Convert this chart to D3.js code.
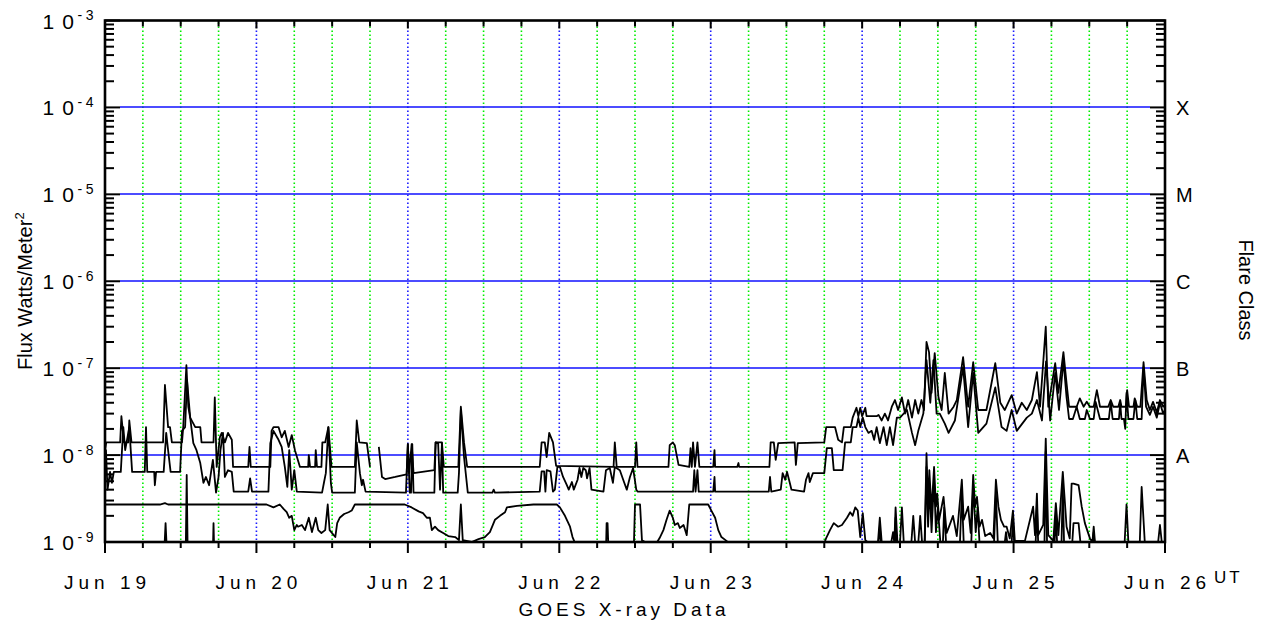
<!DOCTYPE html>
<html><head><meta charset="utf-8">
<script src="https://cdn.jsdelivr.net/npm/d3@7"></script>
<style>
body{margin:0;background:#fff;}
svg{display:block;font-family:"Liberation Sans",Arial,Helvetica,sans-serif;}
</style></head><body>
<svg id="chart" width="1270" height="624"></svg>
<script>
// ---- DATA (hours since Jun 19 00:00 UT, flux in W/m^2) ----
const dayHours = [0,24,48,72,96,120,144,168];
const dayLabels = ["Jun 19","Jun 20","Jun 21","Jun 22","Jun 23","Jun 24","Jun 25","Jun 26"];
const yExponents = [-9,-8,-7,-6,-5,-4,-3];
const classLabels = ["A","B","C","M","X"];
const classLevels = [1e-8,1e-7,1e-6,1e-5,1e-4];

const longA = [
[0,1.14e-8],[0.2,1.4e-8],[2.4,1.4e-8],[2.6,2.8e-8],[3.0,1.4e-8],[3.7,1.4e-8],[3.85,2.5e-8],[4.2,1.4e-8],[9.2,1.4e-8],[9.5,6.4e-8],[10.0,2.1e-8],[10.3,2.1e-8],[10.6,1.4e-8],[12.2,1.4e-8],[12.4,2.1e-8],[12.9,1.08e-7],[13.2,3.6e-8],[13.5,2.7e-8],[14.3,2.1e-8],[15.1,2.1e-8],[15.3,1.4e-8],[17.2,1.4e-8],[17.4,4.6e-8],[17.7,7.3e-9],[18.2,1.6e-8],[18.5,1.8e-8],[19.0,1.4e-8],[19.5,1.8e-8],[20.1,1.5e-8],[20.3,7.3e-9],[22.7,7.3e-9],[22.9,1.24e-8],[23.1,7.3e-9],[26.2,7.3e-9],[26.4,1.9e-8],[26.7,2.1e-8],[27.5,2.1e-8],[28.0,1.6e-8],[28.5,1.9e-8],[29.1,1.24e-8],[29.6,1.7e-8],[30.1,1.14e-8],[30.9,7.3e-9],[32.2,7.3e-9],[32.3,1.0e-8],[32.5,7.3e-9],[33.3,7.3e-9],[33.4,1.14e-8],[33.6,7.3e-9],[34.3,7.3e-9],[34.45,1.4e-8],[34.9,1.4e-8],[35.4,2.1e-8],[35.9,7.3e-9],[39.6,7.3e-9],[39.9,2.5e-8],[40.3,1.4e-8],[41.5,1.37e-8],[42.0,7.3e-9],[42.7,null],[43.4,1.24e-8],[43.9,5.6e-9],[44.4,5.3e-9],[46.0,5.6e-9],[47.8,6.0e-9],[48.0,1.34e-8],[48.2,6.2e-9],[48.6,1.34e-8],[48.9,6.2e-9],[52.2,6.7e-9],[52.4,1.4e-8],[53.4,1.4e-8],[53.7,7.3e-9],[56.0,7.3e-9],[56.4,3.6e-8],[56.9,1.4e-8],[57.4,7.3e-9],[68.9,7.3e-9],[69.2,1.4e-8],[69.7,1.4e-8],[70.0,9.5e-9],[70.4,1.8e-8],[71.0,1.4e-8],[71.5,7.5e-9],[80.6,7.3e-9],[80.8,1.4e-8],[81.1,7.3e-9],[84.0,7.3e-9],[84.2,1.4e-8],[84.4,7.3e-9],[89.3,7.3e-9],[89.5,1.3e-8],[90.0,1.4e-8],[90.3,1.3e-8],[90.9,7.7e-9],[92.6,7.3e-9],[92.8,1.2e-8],[93.0,7.3e-9],[93.2,1.4e-8],[93.5,7.3e-9],[93.9,1.4e-8],[94.2,7.3e-9],[96.4,7.3e-9],[96.6,1.14e-8],[96.7,7.3e-9],[100.2,7.3e-9],[100.4,8.1e-9],[100.5,7.3e-9],[105.3,7.3e-9],[105.5,1.4e-8],[106.0,1.4e-8],[106.3,8.8e-9],[106.7,1.37e-8],[109.3,1.4e-8],[109.5,7.7e-9],[109.8,1.37e-8],[114.0,1.4e-8],[114.3,2.1e-8],[115.7,2.1e-8],[116.2,1.5e-8],[116.8,1.4e-8],[117.1,2.1e-8],[118.2,2.1e-8],[118.5,2.7e-8],[119.1,3.5e-8],[119.4,2.8e-8],[119.7,3.5e-8],[120.0,2.8e-8],[120.5,3.5e-8],[120.7,2.8e-8],[122.3,2.8e-8],[122.6,2.9e-8],[123.1,2.5e-8],[123.6,3.0e-8],[124.1,2.5e-8],[124.7,3.6e-8],[125.2,4.3e-8],[125.7,3.3e-8],[126.3,4.6e-8],[126.8,3.0e-8],[127.3,4.3e-8],[127.9,2.7e-8],[128.4,4.3e-8],[128.9,3.0e-8],[129.4,4.3e-8],[129.8,3.3e-8],[130.2,2.0e-7],[130.6,1.53e-7],[131.0,5.2e-8],[131.5,1.49e-7],[132.1,4.6e-8],[132.6,3.3e-8],[133.1,8.8e-8],[133.7,3.0e-8],[134.5,3.6e-8],[135.0,4.3e-8],[136.0,1.34e-7],[136.8,3.6e-8],[137.6,1.17e-7],[138.4,3.3e-8],[139.7,3.3e-8],[141.1,1.14e-7],[141.9,4.0e-8],[142.6,3.3e-8],[143.7,4.9e-8],[144.5,3.0e-8],[145.3,4.0e-8],[146.1,3.3e-8],[146.9,4.3e-8],[147.7,9.0e-8],[148.2,3.6e-8],[149.1,3.0e-7],[149.5,3.6e-8],[150.6,1.14e-7],[151.1,5.2e-8],[151.9,1.53e-7],[152.4,6.7e-8],[152.8,3.6e-8],[154.0,3.6e-8],[154.5,4.5e-8],[155.1,3.6e-8],[155.6,4.1e-8],[156.1,3.6e-8],[156.7,3.6e-8],[157.2,5.6e-8],[157.7,3.6e-8],[159.0,3.6e-8],[159.4,4.3e-8],[159.8,3.6e-8],[160.6,3.6e-8],[160.9,4.3e-8],[161.1,3.6e-8],[161.8,3.6e-8],[162.0,5.6e-8],[162.3,3.6e-8],[163.0,3.6e-8],[163.2,4.5e-8],[163.6,3.6e-8],[164.1,3.6e-8],[164.6,1.17e-7],[165.1,4.3e-8],[165.6,3.3e-8],[166.1,4.1e-8],[166.7,3.1e-8],[167.2,4.3e-8],[167.7,3.6e-8],[168,3.8e-8]
];

const longB = [
[0,6.7e-9],[0.15,1.14e-8],[0.4,4.0e-9],[0.8,6.4e-9],[1.1,4.8e-9],[1.4,6.4e-9],[2.5,6.4e-9],[2.9,2.1e-8],[3.2,1.14e-8],[3.85,2.1e-8],[4.3,6.4e-9],[6.3,6.4e-9],[6.5,2.1e-8],[6.7,6.4e-9],[7.8,6.4e-9],[7.9,4.5e-9],[8.1,6.4e-9],[9.3,6.4e-9],[9.7,1.8e-8],[10.0,1.14e-8],[10.4,6.4e-9],[11.9,6.4e-9],[12.2,1.9e-8],[12.7,2.1e-8],[13.0,7.3e-8],[13.5,2.7e-8],[14.0,1.37e-8],[14.5,1.14e-8],[15.1,8.1e-9],[15.6,4.8e-9],[16.0,5.6e-9],[16.5,4.5e-9],[17.1,8.8e-9],[17.6,3.7e-9],[18.0,5.6e-9],[18.3,1.14e-8],[18.7,1.8e-8],[19.0,5.6e-9],[19.5,6.7e-9],[20.1,6.4e-9],[20.4,3.8e-9],[22.7,3.8e-9],[23.0,5.4e-9],[23.3,3.8e-9],[25.9,3.8e-9],[26.2,1.37e-8],[26.7,1.9e-8],[27.5,1.5e-8],[28.0,1.24e-8],[28.5,7.3e-9],[28.9,4.3e-9],[29.2,1.14e-8],[29.6,4.0e-9],[30.0,6.7e-9],[30.4,3.8e-9],[34.4,3.7e-9],[34.7,4.8e-9],[35.0,6.2e-9],[35.4,2.1e-8],[35.8,4.8e-9],[36.0,3.7e-9],[39.6,3.7e-9],[39.9,1.4e-8],[40.4,6.2e-9],[40.7,4.5e-9],[40.9,5.2e-9],[41.3,3.8e-9],[47.7,3.7e-9],[48.0,1.34e-8],[48.3,3.7e-9],[48.5,3.7e-9],[48.7,1.34e-8],[48.9,3.7e-9],[52.2,3.7e-9],[52.4,1.4e-8],[52.8,1.37e-8],[53.1,4.0e-9],[53.4,1.37e-8],[53.6,3.7e-9],[55.9,3.7e-9],[56.1,6.2e-9],[56.4,3.3e-8],[56.9,9.5e-9],[57.5,3.7e-9],[61.4,3.7e-9],[61.6,4.0e-9],[61.8,3.7e-9],[68.9,3.8e-9],[69.2,6.5e-9],[69.6,6.5e-9],[69.8,3.8e-9],[70.0,6.7e-9],[70.6,6.5e-9],[71.0,3.8e-9],[71.3,4.0e-9],[71.7,7.3e-9],[72.1,7.3e-9],[72.6,5.6e-9],[73.2,4.5e-9],[73.5,4.0e-9],[74.0,4.9e-9],[74.3,4.0e-9],[74.9,5.2e-9],[75.2,7.1e-9],[75.5,5.6e-9],[75.8,7.1e-9],[76.2,6.7e-9],[76.4,5.4e-9],[76.8,7.1e-9],[77.1,4.0e-9],[79.0,3.8e-9],[79.4,6.7e-9],[80.0,7.1e-9],[80.5,4.8e-9],[80.8,7.3e-9],[81.6,6.7e-9],[82.3,4.8e-9],[82.7,4.0e-9],[83.2,5.6e-9],[83.7,7.1e-9],[84.2,4.0e-9],[84.4,3.8e-9],[93.2,3.8e-9],[93.4,6.7e-9],[93.6,3.8e-9],[93.9,6.7e-9],[94.1,3.8e-9],[96.4,3.8e-9],[96.6,5.6e-9],[96.7,3.8e-9],[105.2,3.8e-9],[105.4,5.6e-9],[105.6,3.8e-9],[107.1,4.0e-9],[107.4,6.2e-9],[107.8,5.2e-9],[108.1,6.4e-9],[108.5,4.9e-9],[108.8,4.0e-9],[110.8,3.8e-9],[111.1,5.2e-9],[111.5,6.2e-9],[111.7,4.9e-9],[112.2,6.2e-9],[114.0,6.2e-9],[114.4,1.2e-8],[115.2,1.2e-8],[115.5,6.7e-9],[116.9,6.7e-9],[117.3,1.4e-8],[118.2,1.4e-8],[118.5,2.1e-8],[119.1,2.1e-8],[119.4,2.7e-8],[119.7,2.1e-8],[120.1,2.7e-8],[120.5,2.1e-8],[121.0,1.8e-8],[121.5,1.9e-8],[121.9,1.5e-8],[122.3,2.1e-8],[122.8,1.37e-8],[123.4,2.1e-8],[123.9,1.3e-8],[124.4,2.1e-8],[124.9,1.3e-8],[125.5,2.7e-8],[126.0,2.7e-8],[127.1,3.3e-8],[127.9,1.8e-8],[128.4,1.3e-8],[128.9,1.9e-8],[129.7,3.0e-8],[130.2,1.24e-7],[130.8,4.0e-8],[131.3,1.24e-7],[131.8,3.0e-8],[132.3,3.0e-8],[133.1,2.3e-8],[133.7,1.8e-8],[134.7,2.5e-8],[136.0,1.03e-7],[136.8,2.1e-8],[137.6,8.8e-8],[138.4,1.8e-8],[139.7,2.3e-8],[141.1,6.0e-8],[142.1,2.1e-8],[142.9,1.9e-8],[143.7,3.3e-8],[144.5,1.9e-8],[146.1,2.7e-8],[146.9,3.0e-8],[147.7,4.3e-8],[148.5,2.5e-8],[149.15,1.2e-7],[149.8,2.5e-8],[150.6,8.8e-8],[151.2,3.3e-8],[151.9,1.24e-7],[152.4,4.6e-8],[152.8,2.6e-8],[153.4,2.6e-8],[154.0,3.6e-8],[154.5,2.6e-8],[155.3,2.6e-8],[155.6,3.3e-8],[156.1,2.6e-8],[156.7,2.6e-8],[157.0,4.1e-8],[157.7,2.6e-8],[159.1,2.6e-8],[159.4,4.1e-8],[159.7,2.6e-8],[160.7,2.6e-8],[160.9,4.0e-8],[161.1,2.6e-8],[161.5,2.6e-8],[161.7,2.0e-8],[161.9,5.2e-8],[162.2,2.6e-8],[163.0,2.6e-8],[163.3,4.3e-8],[163.6,2.6e-8],[164.3,2.6e-8],[164.6,1.03e-7],[165.0,3.6e-8],[165.6,2.9e-8],[166.1,3.6e-8],[166.7,2.7e-8],[167.2,4.0e-8],[167.7,3.0e-8],[168,3.3e-8]
];

const shortA = [
[0,2.7e-9],[8.7,2.7e-9],[9.5,2.8e-9],[10.0,2.7e-9],[24.0,2.7e-9],[25.6,2.7e-9],[26.7,2.5e-9],[27.7,2.7e-9],[28.3,2.4e-9],[28.8,2.2e-9],[29.2,1.9e-9],[29.6,2.0e-9],[30.0,1.37e-9],[30.4,1.57e-9],[30.6,1.5e-9],[31.2,1.57e-9],[31.7,1.37e-9],[32.3,1.9e-9],[32.8,1.3e-9],[33.4,1.9e-9],[33.8,1.37e-9],[34.3,1.27e-9],[34.9,1.37e-9],[35.3,2.7e-9],[35.6,1.37e-9],[36.5,1.14e-9],[36.8,1.65e-9],[37.2,1.9e-9],[37.9,2.1e-9],[38.6,2.2e-9],[39.1,2.3e-9],[39.6,2.7e-9],[43.3,2.7e-9],[47.5,2.7e-9],[48.6,2.5e-9],[49.7,2.25e-9],[50.4,2.15e-9],[51.0,1.9e-9],[51.5,1.9e-9],[51.8,1.37e-9],[52.3,1.5e-9],[52.8,1.37e-9],[53.6,1.27e-9],[54.4,1.17e-9],[55.5,1.14e-9],[56.1,1.05e-9],[56.4,2.7e-9],[56.7,1.05e-9],[58.1,1.0e-9],[59.2,1.08e-9],[60.2,1.14e-9],[61.0,1.3e-9],[61.8,1.8e-9],[62.6,2.0e-9],[63.4,2.2e-9],[63.7,2.5e-9],[65.3,2.6e-9],[67.9,2.7e-9],[71.6,2.7e-9],[72.1,2.5e-9],[72.9,2.0e-9],[73.7,1.5e-9],[74.1,1.14e-9],[74.5,9.7e-10],[74.8,8e-10],[79.4,8e-10],[79.5,1.65e-9],[79.65,1.65e-9],[79.8,8e-10],[83.8,8e-10],[84.0,2.7e-9],[84.8,2.7e-9],[85.1,1.05e-9],[85.6,1.0e-9],[86.0,9.7e-10],[87.4,9.7e-10],[87.9,1.11e-9],[88.5,1.37e-9],[89.0,1.8e-9],[89.5,2.3e-9],[90.0,1.9e-9],[90.3,1.57e-9],[90.8,1.65e-9],[91.1,1.45e-9],[91.7,1.57e-9],[92.2,1.2e-9],[92.6,2.7e-9],[93.2,2.7e-9],[95.6,2.7e-9],[96.1,2.3e-9],[96.7,1.9e-9],[97.2,1.37e-9],[97.7,1.14e-9],[98.5,1.03e-9],[98.9,9.7e-10],[99.3,8e-10],[113.6,8e-10],[114.3,1.11e-9],[114.9,1.37e-9],[115.5,1.65e-9],[116.2,1.5e-9],[116.8,1.57e-9],[117.6,1.9e-9],[118.1,2.2e-9],[118.5,2.0e-9],[118.9,2.5e-9],[119.3,2.3e-9],[119.7,1.14e-9],[120.1,2.15e-9],[120.5,1.05e-9],[121.0,9.8e-10],
[122.5,9.8e-10],[122.8,1.9e-9],[123.1,1.0e-9],[124.6,9.8e-10],[124.9,1.3e-9],[125.1,9.8e-10],[125.3,2.5e-9],[125.6,9.8e-10],[126.0,9.8e-10],[126.3,2.5e-9],[126.6,9.8e-10],[127.8,9.8e-10],[128.1,2.0e-9],[128.4,9.8e-10],[128.9,9.8e-10],[129.2,2.0e-9],[129.5,9.8e-10],[129.9,1.0e-9],[130.2,1.05e-8],[130.45,2.55e-9],[130.65,6.7e-9],[131.0,2.3e-9],[131.4,7.3e-9],[131.7,2.55e-9],[131.9,3.6e-9],[132.2,1.8e-9],[132.9,3.3e-9],[133.4,1.27e-9],[134.4,2.0e-9],[135.0,1.17e-9],[135.8,5.2e-9],[136.1,1.8e-9],[136.8,2.55e-9],[137.2,1.27e-9],[137.6,5.9e-9],[137.9,2.55e-9],[138.2,3.3e-9],[138.6,1.5e-9],[139.0,1.8e-9],[139.5,1.17e-9],[140.3,1.27e-9],[140.8,1.1e-9],[141.2,5.2e-9],[141.6,2.55e-9],[142.0,1.8e-9],[142.5,1.5e-9],[142.9,1.5e-9],[143.4,1.1e-9],[143.9,2.3e-9],[144.2,1.03e-9],[145.8,1.03e-9],[147.1,2.55e-9],[147.4,1.2e-9],[147.7,3.6e-9],[147.9,1.2e-9],[148.7,1.57e-9],[149.1,1.55e-8],[149.5,1.2e-9],[150.3,1.03e-9],[150.7,2.8e-9],[151.1,1.2e-9],[151.8,6.4e-9],[152.4,1.5e-9],[152.9,1.1e-9],[153.2,4.7e-9],[153.5,4.7e-9],[154.3,4.5e-9],[154.8,2.55e-9],[155.3,1.65e-9],[156.1,1.1e-9],[156.5,1.0e-9],[156.7,1.5e-9],[156.9,1.0e-9],[157.2,9.8e-10],[161.6,9.8e-10],[161.9,2.7e-9],[162.2,9.8e-10],[164.0,9.8e-10],[164.3,4.3e-9],[164.8,9.8e-10],[166.9,9.8e-10],[167.2,1.57e-9],[167.5,9.8e-10],[168,9.8e-10]
];

const shortB = [
[0,8e-10],[9.4,8e-10],[9.6,1.65e-9],[9.8,8e-10],[12.8,8e-10],[12.95,5.9e-9],[13.1,8e-10],[17.1,8e-10],[17.2,1.65e-9],[17.3,8e-10],[122.5,8e-10],[122.8,1.5e-9],[123.1,8e-10],[125.1,8e-10],[125.3,1.9e-9],[125.5,8e-10],[129.9,8e-10],[130.2,7.3e-9],[130.45,1.5e-9],[130.7,4.5e-9],[131.0,1.3e-9],[131.4,5.2e-9],[131.7,1.3e-9],[132.0,2.5e-9],[132.4,9.8e-10],[132.8,9.8e-10],[133.0,2.5e-9],[133.3,9.8e-10],[135.5,9.8e-10],[135.8,3.6e-9],[136.1,9.8e-10],[137.3,9.8e-10],[137.6,4.5e-9],[138.0,1.3e-9],[138.3,2.5e-9],[138.6,9.8e-10],[140.9,9.8e-10],[141.2,3.6e-9],[141.5,9.8e-10],[142.6,9.8e-10],[142.8,1.3e-9],[143.0,9.8e-10],[143.7,9.8e-10],[143.9,1.8e-9],[144.1,9.8e-10],[147.5,9.8e-10],[147.7,2.5e-9],[147.9,9.8e-10],[148.9,9.8e-10],[149.1,1.1e-8],[149.3,9.8e-10],[150.5,9.8e-10],[150.7,2.0e-9],[150.9,9.8e-10],[151.6,9.8e-10],[151.8,4.5e-9],[152.0,9.8e-10],[153.3,9.8e-10],[153.5,1.65e-9],[154.3,1.65e-9],[154.6,9.8e-10],[156.5,9.8e-10],[156.7,1.3e-9],[156.9,8e-10],[168,8e-10]
];

// ---- CHART ----
const W = 1270, H = 624;
const P = {left:105, right:1165, top:20.5, bottom:542};
const x = d3.scaleLinear().domain([0,168]).range([P.left, P.right]);
const y = d3.scaleLog().domain([1e-9,1e-3]).range([P.bottom, P.top]);
const svg = d3.select("#chart");
svg.append("rect").attr("width",W).attr("height",H).attr("fill","#fff");
svg.append("defs").append("clipPath").attr("id","clip").append("rect")
  .attr("x",P.left).attr("y",P.top).attr("width",P.right-P.left).attr("height",P.bottom-P.top);

// vertical dotted grid every 6 h (blue at day boundaries, green otherwise)
const sixHours = d3.range(6,168,6);
svg.append("g").selectAll("line").data(sixHours).join("line")
  .attr("x1",d=>x(d)).attr("x2",d=>x(d)).attr("y1",P.top+2).attr("y2",P.bottom-1)
  .attr("stroke",d=>d%24===0?"#1a1aff":"#00ee00")
  .attr("stroke-width",1.6).attr("stroke-dasharray","1.4,2.6");

// flare class horizontal lines
svg.append("g").selectAll("line").data(classLevels).join("line")
  .attr("x1",P.left+15).attr("x2",P.right-15)
  .attr("y1",d=>Math.round(y(d))).attr("y2",d=>Math.round(y(d)))
  .attr("stroke","#1010ff").attr("stroke-width",1.6);

// data traces
const line = d3.line().defined(d=>d[1]!=null).x(d=>x(d[0])).y(d=>y(d[1]));
const gData = svg.append("g").attr("clip-path","url(#clip)");
[shortB, shortA, longB, longA].forEach(s=>{
  gData.append("path").datum(s).attr("d",line)
    .attr("fill","none").attr("stroke","#000").attr("stroke-width",1.8)
    .attr("stroke-linejoin","round");
});

// frame
svg.append("rect").attr("x",P.left).attr("y",P.top)
  .attr("width",P.right-P.left).attr("height",P.bottom-P.top)
  .attr("fill","none").attr("stroke","#000").attr("stroke-width",2.6);

// y ticks (left and right, inward)
const majors = yExponents.map(e=>Math.pow(10,e));
const minors = [];
yExponents.slice(0,-1).forEach(e=>{ for(let m=2;m<=9;m++) minors.push(m*Math.pow(10,e)); });
const yt = svg.append("g").attr("stroke","#000").attr("stroke-width",2);
[[P.left,1],[P.right,-1]].forEach(([x0,dir])=>{
  yt.append("g").selectAll("line").data(minors).join("line")
    .attr("x1",x0).attr("x2",x0+dir*9).attr("y1",d=>y(d)).attr("y2",d=>y(d));
  yt.append("g").selectAll("line").data(majors).join("line")
    .attr("x1",x0).attr("x2",x0+dir*15).attr("y1",d=>y(d)).attr("y2",d=>y(d));
});

// x ticks: top inward, bottom outward
const allSix = d3.range(0,169,6);
const xt = svg.append("g").attr("stroke","#000").attr("stroke-width",2);
xt.append("g").selectAll("line").data(allSix).join("line")
  .attr("x1",d=>x(d)).attr("x2",d=>x(d)).attr("y1",P.top)
  .attr("y2",d=>P.top+(d%24===0?8:6));
xt.append("g").selectAll("line").data(allSix).join("line")
  .attr("x1",d=>x(d)).attr("x2",d=>x(d)).attr("y1",P.bottom)
  .attr("y2",d=>P.bottom+(d%24===0?11:6));

// y tick labels  "1 0" with superscript exponent
const yl = svg.append("g").attr("fill","#000");
yExponents.forEach(e=>{
  const yy = y(Math.pow(10,e));
  const t = yl.append("text").attr("x",42.5).attr("y",yy+8).attr("font-size",21);
  t.append("tspan").text("1");
  t.append("tspan").attr("dx",8).text("0");
  t.append("tspan").attr("x",77.5).attr("y",yy-0.5)
    .attr("font-size",14).attr("letter-spacing",3.5).text(String(e));
});

// flare class letters
svg.append("g").selectAll("text").data(classLabels).join("text")
  .attr("x",P.right+11).attr("y",(d,i)=>y(classLevels[i])+8)
  .attr("font-size",20).text(d=>d);

// x tick labels
svg.append("g").selectAll("text").data(dayLabels).join("text")
  .attr("x",(d,i)=>x(dayHours[i])+2.5).attr("y",589)
  .attr("text-anchor","middle").attr("font-size",19).attr("letter-spacing",5)
  .text(d=>d);
svg.append("text").attr("x",1214).attr("y",583).attr("font-size",17)
  .attr("letter-spacing",3).text("UT");

// titles
svg.append("text").attr("x",624).attr("y",616)
  .attr("text-anchor","middle").attr("font-size",19).attr("letter-spacing",4)
  .text("GOES X-ray Data");

const yLab = svg.append("text").attr("transform","translate(31.5,370) rotate(-90)")
  .attr("font-size",20).text("Flux Watts/Meter");
yLab.append("tspan").attr("dy",-8).attr("font-size",13).text("2");

svg.append("text").attr("transform","translate(1238.5,290) rotate(90)")
  .attr("text-anchor","middle").attr("font-size",20).text("Flare Class");
</script>
</body></html>
